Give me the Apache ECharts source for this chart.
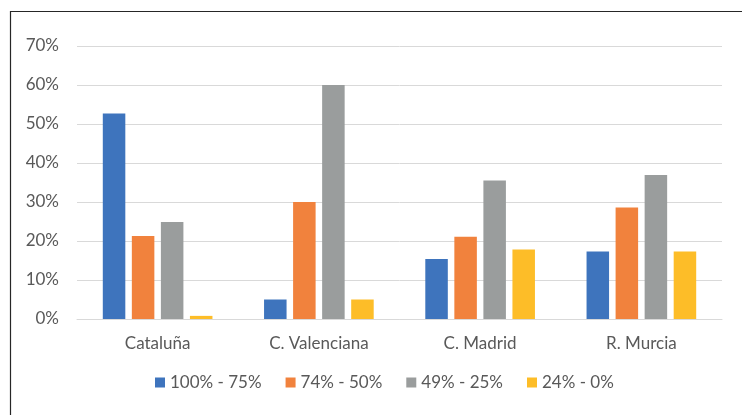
<!DOCTYPE html>
<html>
<head>
<meta charset="utf-8">
<script src="https://cdn.jsdelivr.net/npm/echarts@6/dist/echarts.min.js"></script>
<style>
    body { margin: 0; background: #fff; }
    #container { width: 742px; height: 415px; }
</style>
</head>
<body>
<div id="container"></div>
<script type="text/javascript">
    var regiones = ['Cataluña', 'C. Valenciana', 'C. Madrid', 'R. Murcia'];
    var tramos = ['100% - 75%', '74% - 50%', '49% - 25%', '24% - 0%'];
    var tramo1 = [52.7, 5, 15.4, 17.3];
    var tramo2 = [21.3, 30, 21.1, 28.6];
    var tramo3 = [24.9, 60, 35.5, 36.9];
    var tramo4 = [0.8, 5, 17.8, 17.3];
    var colores = ['#3e74bd', '#f1823d', '#9a9d9d', '#fdbd28'];

    var dom = document.getElementById("container");
    var myChart = echarts.init(dom);
    var textColor = '#595959';
    var font = 'Lato';

    function serie(nombre, datos, color) {
        return {
            name: nombre,
            type: 'bar',
            data: datos,
            barGap: '29%',
            barCategoryGap: '32%',
            itemStyle: { color: color },
            emphasis: { disabled: true }
        };
    }

    var option = {
        animation: false,
        graphic: [
            // marco del gráfico (solo izquierda y arriba visibles)
            { type: 'polyline', shape: { points: [[10.5, 420], [10.5, 11.5], [745, 11.5]] },
              style: { stroke: '#262626', lineWidth: 1.2, fill: null }, silent: true }
        ],
        grid: { left: 77, right: 20, top: 46, bottom: 96 },
        legend: {
            data: tramos,
            top: 369,
            left: 150,
            itemWidth: 10,
            itemHeight: 10,
            itemGap: 24,
            icon: 'rect',
            textStyle: { color: textColor, fontSize: 17, fontFamily: font }
        },
        xAxis: {
            type: 'category',
            data: regiones,
            axisLine: { lineStyle: { color: '#d9d9d9', width: 1 } },
            axisTick: { show: false },
            axisLabel: { color: textColor, fontSize: 17, fontFamily: font, margin: 16 }
        },
        yAxis: {
            type: 'value',
            min: 0,
            max: 70,
            interval: 10,
            axisLabel: { formatter: '{value}%', color: textColor, fontSize: 17, fontFamily: font, margin: 18 },
            splitLine: { lineStyle: { color: '#d9d9d9', width: 1 } },
            axisLine: { show: false },
            axisTick: { show: false }
        },
        series: [
            serie(tramos[0], tramo1, colores[0]),
            serie(tramos[1], tramo2, colores[1]),
            serie(tramos[2], tramo3, colores[2]),
            serie(tramos[3], tramo4, colores[3])
        ]
    };

    if (option && typeof option === 'object') {
        myChart.setOption(option);
    }
</script>
</body>
</html>
